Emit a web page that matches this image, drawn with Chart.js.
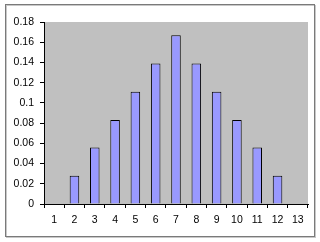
<!DOCTYPE html>
<html>
<head>
<meta charset="utf-8">
<script src="https://cdn.jsdelivr.net/npm/chart.js@4/dist/chart.umd.min.js"></script>
<style>
  html, body { margin: 0; padding: 0; background: #fff; }
  #wrap { width: 320px; height: 242px; position: relative; }
</style>
</head>
<body>
<div id="wrap"><canvas id="chart" width="320" height="242"></canvas></div>
<script>
// dice sum probabilities
const categories = ['1', '2', '3', '4', '5', '6', '7', '8', '9', '10', '11', '12', '13'];
const probabilities = [0, 0.028, 0.056, 0.083, 0.111, 0.139, 0.167, 0.139, 0.111, 0.083, 0.056, 0.028, 0];
const yTicks = [0, 0.02, 0.04, 0.06, 0.08, 0.1, 0.12, 0.14, 0.16, 0.18];

// white chart area with a grey frame, grey plot area behind the bars
const backdrop = {
  id: 'backdrop',
  beforeDraw(chart) {
    const ctx = chart.ctx;
    const a = chart.chartArea;
    ctx.save();
    ctx.fillStyle = '#fff';
    ctx.fillRect(0, 0, chart.width, chart.height);
    ctx.strokeStyle = '#c8c8c8';
    ctx.lineWidth = 1;
    ctx.strokeRect(6.5, 5.5, 309, 232);
    ctx.strokeStyle = '#7a7a7a';
    ctx.strokeRect(5.5, 4.5, 309, 232);
    ctx.fillStyle = '#c0c0c0';
    ctx.fillRect(a.left, a.top, a.right - a.left, a.bottom - a.top);
    ctx.restore();
  }
};

const tickFont = { family: 'Liberation Sans', size: 10.5 };

new Chart(document.getElementById('chart'), {
  type: 'bar',
  data: {
    labels: categories,
    datasets: [{
      data: probabilities,
      backgroundColor: '#9999ff',
      borderColor: '#000',
      borderWidth: 1,
      borderSkipped: 'bottom',
      barPercentage: 0.47,
      categoryPercentage: 1
    }]
  },
  options: {
    responsive: false,
    animation: false,
    layout: { padding: { left: 0, top: 22, right: 12, bottom: 0 } },
    plugins: { legend: { display: false }, tooltip: { enabled: false } },
    scales: {
      x: {
        offset: true,
        grid: { drawOnChartArea: false, offset: true, tickLength: 4, color: '#000' },
        border: { color: '#000', width: 1 },
        ticks: { color: '#000', padding: 6, font: tickFont, maxRotation: 0 },
        afterFit(s) { s.height = 38; }
      },
      y: {
        min: 0,
        max: 0.18,
        grid: { drawOnChartArea: false, tickLength: 4, color: '#000' },
        border: { color: '#000', width: 1 },
        ticks: {
          stepSize: 0.02,
          color: '#000',
          padding: 6,
          font: tickFont,
          callback: v => {
            const t = yTicks.find(k => Math.abs(k - v) < 1e-9);
            return t === undefined ? '' : String(t);
          }
        },
        afterFit(s) { s.width = 44; }
      }
    }
  },
  plugins: [backdrop]
});
</script>
</body>
</html>
